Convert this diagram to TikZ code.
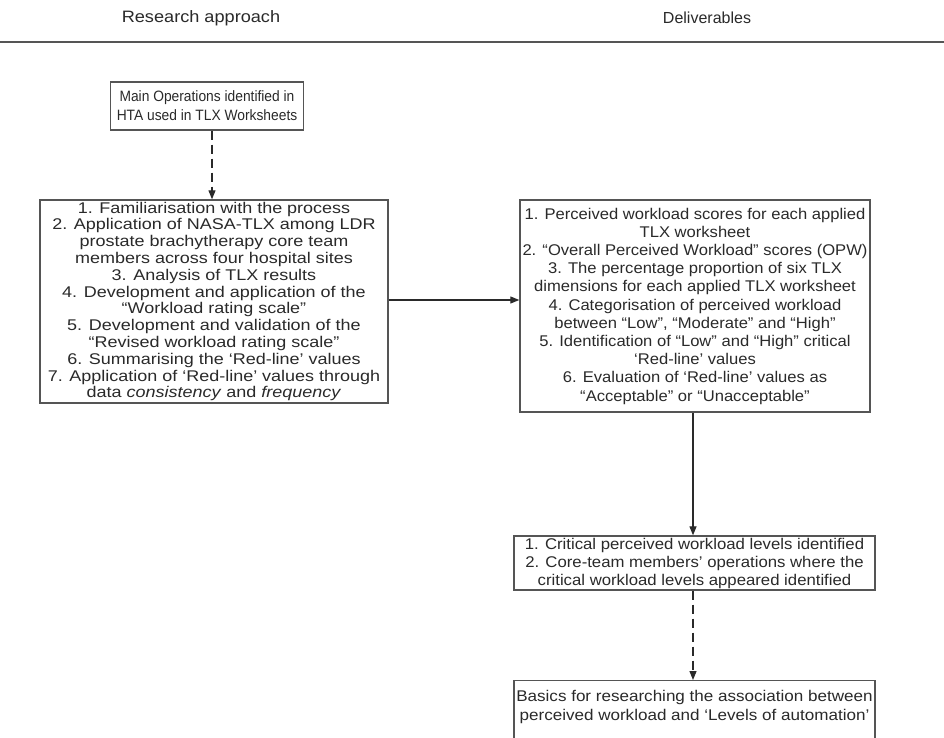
\documentclass[tikz,border=0pt]{standalone}
\usepackage{fontspec}
\setmainfont{Liberation Sans}
\newfontfamily\fa[FakeStretch=1.16]{Liberation Sans}
\newfontfamily\fb[FakeStretch=1.07]{Liberation Sans}
\newfontfamily\fc[FakeStretch=1.08]{Liberation Sans}
\newfontfamily\fd[FakeStretch=0.92]{Liberation Sans}
\newfontfamily\fe[FakeStretch=1.1]{Liberation Sans}
\usetikzlibrary{arrows.meta}
\definecolor{ink}{HTML}{2A2A2A}
\definecolor{rule}{HTML}{555555}
\begin{document}
\begin{tikzpicture}[x=1pt,y=-1pt,
  box/.style={draw=rule,line width=1.4pt,inner sep=0pt,align=center,text=ink},
  txt/.style={inner sep=0pt,align=center,text=ink},
  hdr/.style={text=ink,font=\fe\fontsize{16}{18}\selectfont},
  arr/.style={draw=ink,line width=1.2pt,-{Triangle[length=9pt,width=7pt]}},
  darr/.style={arr,dash pattern=on 9pt off 5pt}]
\useasboundingbox (0,0) rectangle (944,738);
\fill[white] (0,0) rectangle (944,738);
\node[hdr,font=\fe\fontsize{16.5}{18}\selectfont] (h1) at (201,18) {Research approach};
\node[hdr,font=\rmfamily\fontsize{16}{18}\selectfont] (h2) at (707,18) {Deliverables};
\draw[rule,line width=2pt] (0,42) -- (944,42);

\node[box,minimum width=193pt,minimum height=48pt,font=\fd\fontsize{15}{19}\selectfont] (b1) at (207,106)
 {Main Operations identified in\\HTA used in TLX Worksheets};
\node[box,minimum width=348pt,minimum height=203pt,font=\fa\fontsize{15.5}{16.8}\selectfont] (b2) at (214,301.5)
 {1. Familiarisation with the process\\
  2. Application of NASA-TLX among LDR\\
  prostate brachytherapy core team\\
  members across four hospital sites\\
  3. Analysis of TLX results\\
  4. Development and application of the\\
  “Workload rating scale”\\
  5. Development and validation of the\\
  “Revised workload rating scale”\\
  6. Summarising the ‘Red-line’ values\\
  7. Application of ‘Red-line’ values through\\
  data \textit{consistency} and \textit{frequency}};
\node[box,minimum width=350pt,minimum height=212pt,font=\fb\fontsize{15.5}{18.2}\selectfont] (b3) at (695,306)
 {1. Perceived workload scores for each applied\\
  TLX worksheet\\
  2. “Overall Perceived Workload” scores (OPW)\\
  3. The percentage proportion of six TLX\\
  dimensions for each applied TLX worksheet\\
  4. Categorisation of perceived workload\\
  between “Low”, “Moderate” and “High”\\
  5. Identification of “Low” and “High” critical\\
  ‘Red-line’ values\\
  6. Evaluation of ‘Red-line’ values as\\
  “Acceptable” or “Unacceptable”};
\node[box,minimum width=361pt,minimum height=54pt,font=\fc\fontsize{15.5}{18}\selectfont] (b4) at (694.5,563)
 {1. Critical perceived workload levels identified\\
  2. Core-team members’ operations where the\\
  critical workload levels appeared identified};
\node[box,minimum width=361pt,minimum height=70pt,anchor=north] (b5) at (694.5,680) {};
\node[txt,font=\fe\fontsize{15.5}{19}\selectfont] (b5t) at (694.5,706.5)
 {Basics for researching the association between\\
  perceived workload and ‘Levels of automation’};

\draw[darr] (b1.south -| 212,0) -- (212,0 |- b2.north);
\draw[arr] (b2.east |- 0,300) -- (b3.west |- 0,300);
\draw[arr] (b3.south -| 693,0) -- (693,0 |- b4.north);
\draw[darr] (b4.south -| 693,0) -- (693,0 |- b5.north);
\end{tikzpicture}
\end{document}
